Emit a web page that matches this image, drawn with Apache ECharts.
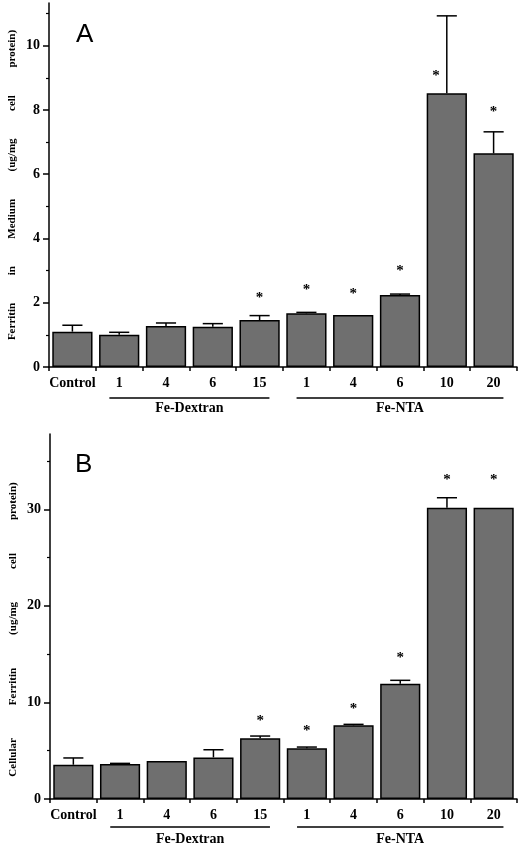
<!DOCTYPE html>
<html>
<head>
<meta charset="utf-8">
<script src="https://cdn.jsdelivr.net/npm/echarts@6/dist/echarts.min.js"></script>
<style>
html,body{margin:0;padding:0;background:#fff;}
#chart{width:520px;height:848px;}
</style>
</head>
<body>
<div id="chart"></div>
<script>
// ---- data ----
const categories = ['Control', '1', '4', '6', '15', '1', '4', '6', '10', '20'];
const groups = [
  { name: 'Fe-Dextran', from: 1, to: 4 },
  { name: 'Fe-NTA', from: 5, to: 9 }
];

// Panel A: ferritin in medium
const mediumMean   = [1.10, 1.00, 1.28, 1.25, 1.46, 1.67, 1.62, 2.24, 8.52, 6.65];
const mediumErrTop = [1.30, 1.08, 1.37, 1.35, 1.60, 1.70, null, 2.27, 10.93, 7.32];
const mediumStar   = [null, null, null, null, 2.24, 2.48, 2.37, 3.07, 9.16, 8.02];
const mediumTicks      = [0, 2, 4, 6, 8, 10];
const mediumMinorTicks = [1, 3, 5, 7, 9, 11];
const mediumMax = 11.33;

// Panel B: cellular ferritin
const cellularMean   = [3.55, 3.62, 3.93, 4.31, 6.28, 5.25, 7.63, 11.94, 30.17, 30.17];
const cellularErrTop = [4.25, 3.69, null, 5.10, 6.52, 5.38, 7.73, 12.29, 31.20, null];
const cellularStar   = [null, null, null, null, 8.35, 7.32, 9.67, 14.88, 33.31, 33.31];
const cellularTicks      = [0, 10, 20, 30];
const cellularMinorTicks = [5, 15, 25, 35];
const cellularMax = 37.8;

const titleA = ['Ferritin', 'in', 'Medium', '(ug/mg', 'cell', 'protein)'];
const titleB = ['Cellular', 'Ferritin', '(ug/mg', 'cell', 'protein)'];

// ---- styling ----
const SERIF = "'Liberation Serif', 'Times New Roman', serif";
const SANS = "'Liberation Sans', Arial, sans-serif";
const BAR_FILL = '#6f6f6f';

const chart = echarts.init(document.getElementById('chart'), null, { renderer: 'canvas' });

function xAxisFor(gridIndex) {
  return {
    type: 'category', gridIndex: gridIndex, data: categories, boundaryGap: true,
    axisLine: { lineStyle: { color: '#000', width: 1.5 } },
    axisTick: { show: true, length: 4, alignWithLabel: false, interval: 0, lineStyle: { color: '#000', width: 1.5 } },
    axisLabel: { interval: 0, margin: 9, color: '#000', fontFamily: SERIF, fontWeight: 'bold', fontSize: 14 },
    splitLine: { show: false }
  };
}
function yAxesFor(gridIndex, max, ticks, minor, name, nameGap, namePad) {
  return [
    {
      type: 'value', gridIndex: gridIndex, position: 'left', min: 0, max: max,
      name: name, nameLocation: 'middle', nameRotate: 90, nameGap: nameGap, nameMoveOverlap: false,
      nameTextStyle: { color: '#000', fontFamily: SERIF, fontWeight: 'bold', fontSize: 11, padding: namePad },
      axisLine: { show: true, lineStyle: { color: '#000', width: 1.5 } },
      axisTick: { show: true, length: 6, customValues: ticks, lineStyle: { color: '#000', width: 1.5 } },
      axisLabel: { customValues: ticks, margin: 9, color: '#000', fontFamily: SERIF, fontWeight: 'bold', fontSize: 14 },
      splitLine: { show: false }
    },
    {
      type: 'value', gridIndex: gridIndex, position: 'left', min: 0, max: max,
      axisLine: { show: false },
      axisTick: { show: true, length: 3, customValues: minor, lineStyle: { color: '#000', width: 1.2 } },
      axisLabel: { show: false },
      splitLine: { show: false }
    }
  ];
}

function barSeries(gridIndex, values) {
  return {
    type: 'bar', xAxisIndex: gridIndex, yAxisIndex: gridIndex * 2, data: values,
    barCategoryGap: '14%',
    itemStyle: { color: BAR_FILL, borderColor: '#000', borderWidth: 1.5 },
    silent: true, z: 2
  };
}
function errorSeries(gridIndex, means, tops) {
  const data = [];
  tops.forEach((t, i) => { if (t != null) data.push([i, means[i], t]); });
  return {
    type: 'custom', xAxisIndex: gridIndex, yAxisIndex: gridIndex * 2, data: data, z: 3, silent: true,
    renderItem: function (params, api) {
      const x = api.value(0);
      const p0 = api.coord([x, api.value(1)]);
      const p1 = api.coord([x, api.value(2)]);
      const half = api.size([1, 0])[0] * 0.215;
      const st = { stroke: '#000', lineWidth: 1.5 };
      return {
        type: 'group', children: [
          { type: 'line', shape: { x1: p0[0], y1: p0[1], x2: p1[0], y2: p1[1] }, style: st },
          { type: 'line', shape: { x1: p1[0] - half, y1: p1[1], x2: p1[0] + half, y2: p1[1] }, style: st }
        ]
      };
    }
  };
}
function starSeries(gridIndex, stars, tops) {
  const data = [];
  stars.forEach((s, i) => { if (s != null) data.push([i, s, tops[i] == null ? s : tops[i]]); });
  return {
    type: 'custom', xAxisIndex: gridIndex, yAxisIndex: gridIndex * 2, data: data, z: 4, silent: true,
    renderItem: function (params, api) {
      const p = api.coord([api.value(0), api.value(1)]);
      // if the star sits below the error-bar cap, move it beside the whisker
      const shift = api.value(1) < api.value(2) ? -api.size([1, 0])[0] * 0.23 : 0;
      return {
        type: 'text', x: p[0] + shift, y: p[1] + 3,
        style: { text: '*', fill: '#000', font: 'bold 15px ' + SERIF, align: 'center', verticalAlign: 'middle' }
      };
    }
  };
}

const option = {
  animation: false,
  backgroundColor: '#fff',
  grid: [
    { left: 49, right: 3, top: 3, bottom: 481, containLabel: false, outerBoundsMode: 'none' },
    { left: 50, right: 3, top: 434, bottom: 49, containLabel: false, outerBoundsMode: 'none' }
  ],
  xAxis: [xAxisFor(0), xAxisFor(1)],
  yAxis: [].concat(
    yAxesFor(0, mediumMax, mediumTicks, mediumMinorTicks, titleA.join('          '), 31, [0, 0, 0, 0]),
    yAxesFor(1, cellularMax, cellularTicks, cellularMinorTicks, titleB.join('            '), 31, [0, 26, 0, 0])
  ),
  series: [
    barSeries(0, mediumMean), errorSeries(0, mediumMean, mediumErrTop), starSeries(0, mediumStar, mediumErrTop),
    barSeries(1, cellularMean), errorSeries(1, cellularMean, cellularErrTop), starSeries(1, cellularStar, cellularErrTop)
  ]
};
chart.setOption(option);

// group brackets under the category axis, positioned from the axis scale
function groupGraphics(gridIndex, lineDrop, textDrop) {
  const out = [];
  groups.forEach(g => {
    const a = chart.convertToPixel({ gridIndex: gridIndex }, [g.from, 0]);
    const b = chart.convertToPixel({ gridIndex: gridIndex }, [g.to, 0]);
    const a1 = chart.convertToPixel({ gridIndex: gridIndex }, [g.from + 1, 0]);
    const pad = (a1[0] - a[0]) * 0.21;
    out.push({
      type: 'line', silent: true,
      shape: { x1: a[0] - pad, y1: a[1] + lineDrop, x2: b[0] + pad, y2: b[1] + lineDrop },
      style: { stroke: '#000', lineWidth: 1.3 }
    });
    out.push({
      type: 'text', silent: true, x: (a[0] + b[0]) / 2, y: a[1] + textDrop,
      style: { text: g.name, fill: '#000', font: 'bold 14px ' + SERIF, align: 'center', verticalAlign: 'middle' }
    });
  });
  return out;
}

chart.setOption({
  graphic: [].concat(
    groupGraphics(0, 31, 41),
    groupGraphics(1, 28, 40),
    [
      { type: 'text', silent: true, x: 76, y: 22, style: { text: 'A', fill: '#000', font: '26px ' + SANS, align: 'left', verticalAlign: 'top' } },
      { type: 'text', silent: true, x: 75, y: 452, style: { text: 'B', fill: '#000', font: '26px ' + SANS, align: 'left', verticalAlign: 'top' } }
    ]
  )
});
</script>
</body>
</html>
